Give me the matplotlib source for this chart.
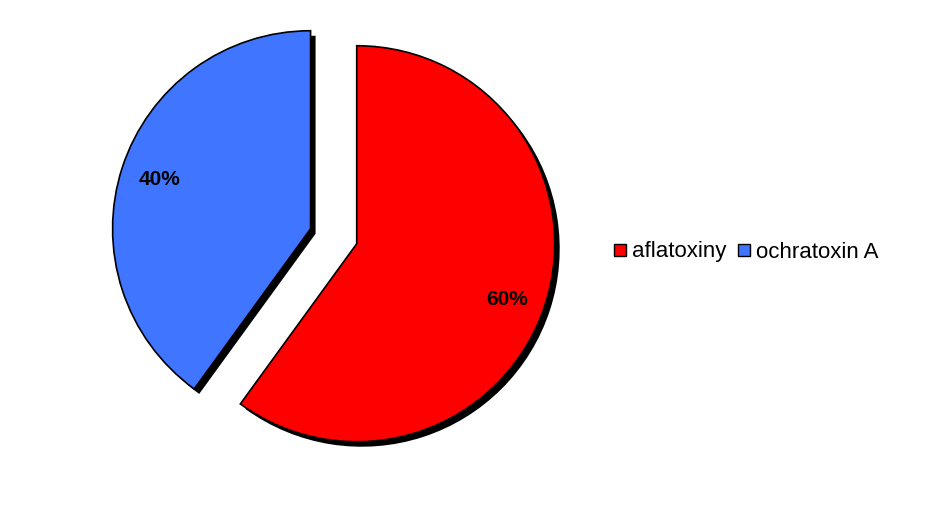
import matplotlib.pyplot as plt
from matplotlib.lines import Line2D

labels = ['aflatoxiny', 'ochratoxin A']
values = [60, 40]
colors = ['#ff0000', '#3f75ff']

plt.rcParams['font.family'] = ['Liberation Sans', 'DejaVu Sans']

fig = plt.figure(figsize=(9.45, 5.13), dpi=100)
# axes sized so that radius 1 ~ 198 px, centered on the pie
half = 230
ax = fig.add_axes([(336 - half) / 945, (276 - half) / 513, 2 * half / 945, 2 * half / 513])
lim = half / 198

explode = [0.11, 0.135]
sh = 5 / 198
# black shadow underneath
ax.pie(values, explode=explode, startangle=90, counterclock=False,
       colors=['black', 'black'], center=(sh, -sh),
       wedgeprops=dict(linewidth=0))
wedges, texts, autotexts = ax.pie(
    values, explode=explode, startangle=90, counterclock=False,
    colors=colors, autopct='%1.0f%%', pctdistance=0.8,
    wedgeprops=dict(edgecolor='black', linewidth=1.2),
    textprops=dict(fontsize=15, fontweight='bold', color='black'))
# 60% label sits a little lower in the original
x, y = autotexts[0].get_position()
autotexts[0].set_position((x, y - 0.035))
ax.set_xlim(-lim, lim)
ax.set_ylim(-lim, lim)
ax.set_aspect('equal')
ax.axis('off')

handles = [Line2D([], [], marker='s', linestyle='', markersize=9,
                  markerfacecolor=c, markeredgecolor='black', markeredgewidth=1)
           for c in colors]
fig.legend(handles, labels, loc='center left', bbox_to_anchor=(593 / 945, 1 - 252 / 513),
           ncol=2, frameon=False, fontsize=16, handlelength=0.6, handletextpad=0.25,
           columnspacing=0.5)

fig.savefig('out.png', dpi=100)
